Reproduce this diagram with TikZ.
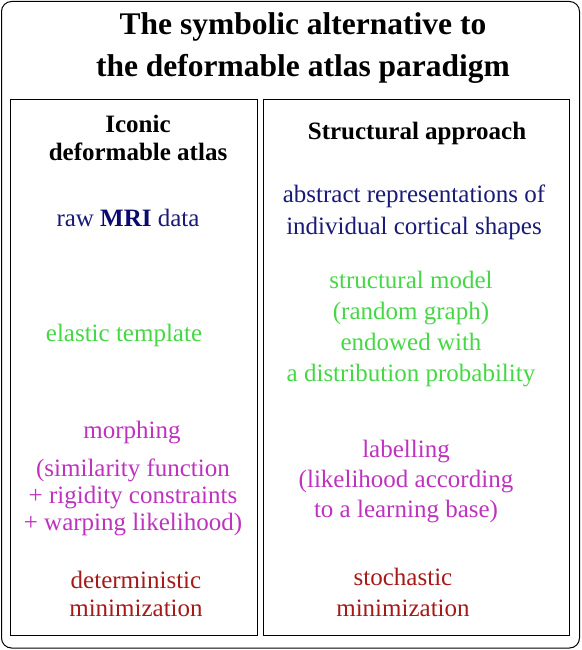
\documentclass[tikz,border=0pt]{standalone}
\usepackage{fontspec}
\setmainfont{Liberation Serif}
\usepackage{xcolor}
\usetikzlibrary{positioning}

\definecolor{rawblue}{RGB}{25,25,120}
\definecolor{mriblue}{RGB}{10,10,110}
\definecolor{elgreen}{RGB}{70,215,70}
\definecolor{morphpink}{RGB}{190,50,190}
\definecolor{minred}{RGB}{165,25,25}

\tikzset{
  txt/.style={font=\fontsize{25}{30}\selectfont, align=center, inner sep=0pt},
  head/.style={font=\fontsize{25}{28}\selectfont\bfseries, align=center, inner sep=0pt},
  panel/.style={draw, line width=1pt}
}

\begin{document}
\begin{tikzpicture}[x=1pt, y=-1pt]
    \useasboundingbox (0,0) rectangle (581,650);
    % outer frame
    \draw[line width=1pt, rounded corners=10pt] (1.5,1.5) rectangle (579.5,648);
    \node[font=\fontsize{31.5}{42}\selectfont\bfseries, align=center, inner sep=0pt] (title) at (303,48)
        {The symbolic alternative to\\the deformable atlas paradigm};

    % two panels
    \draw[panel] (10,100) rectangle (257,635);
    \draw[panel] (263,100) rectangle (569,635);

    % Iconic side
    \node[head] (iconic) at (138,138) {Iconic\\deformable atlas};
    \node[txt, rawblue] (raw) at (128,218) {raw \textcolor{mriblue}{\textbf{MRI}} data};
    \node[txt, elgreen] (elastic) at (124,335) {elastic template};
    \node[txt, morphpink] (morph) at (132,433) {morphing};
    \node[txt, morphpink, font=\fontsize{25}{27}\selectfont] (simil) at (133,497)
        {(similarity function\\+ rigidity constraints\\+ warping likelihood)};
    \node[txt, minred, font=\fontsize{25}{28}\selectfont] (determ) at (136,594) {deterministic\\minimization};

    % Structural side
    \node[head] (struct) at (417,133) {Structural approach};
    \node[txt, rawblue, font=\fontsize{25}{32}\selectfont] (abstr) at (414,212)
        {abstract representations of\\individual cortical shapes};
    \node[txt, elgreen, font=\fontsize{25}{31}\selectfont] (model) at (411,329)
        {structural model\\(random graph)\\endowed with\\a distribution probability};
    \node[txt, morphpink, font=\fontsize{25}{30}\selectfont] (label) at (406,482)
        {labelling\\(likelihood according\\to a learning base)};
    \node[txt, minred, font=\fontsize{25}{31}\selectfont] (stoch) at (403,592) {stochastic\\minimization};
\end{tikzpicture}
\end{document}
